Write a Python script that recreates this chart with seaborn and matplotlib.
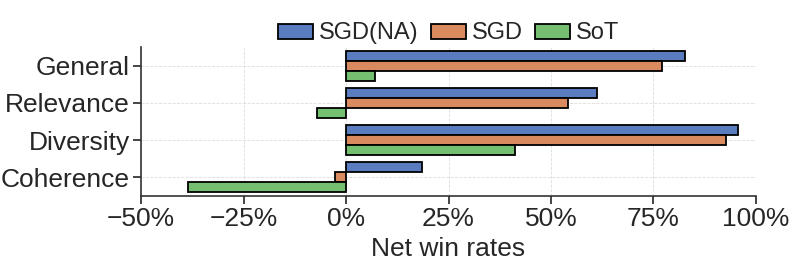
import pandas as pd
import numpy as np
import matplotlib.pyplot as plt
import seaborn as sns
from matplotlib.ticker import FuncFormatter

# Values (net win rates, %)
categories = ['General', 'Relevance', 'Diversity', 'Coherence']
methods = ['SGD(NA)', 'SGD', 'SoT']
sgd_na = [82.8, 61.3, 95.7, 18.5]
sgd = [77.0, 54.2, 92.7, -2.8]
sot = [7.0, -7.2, 41.3, -38.7]

df = pd.DataFrame({
    'Aspect': categories * 3,
    'Method': [m for m in methods for _ in categories],
    'Rate': sgd_na + sgd + sot,
})

sns.set_style('ticks')
plt.rcParams['font.family'] = ['Liberation Sans', 'DejaVu Sans']

fig, ax = plt.subplots(figsize=(7.89, 2.63), dpi=100)
sns.barplot(data=df, x='Rate', y='Aspect', hue='Method', order=categories,
            hue_order=methods, palette='muted', orient='h',
            edgecolor='black', linewidth=1.3, width=0.8, ax=ax)

ax.set_xlim(-50, 100)
ax.set_xticks([-50, -25, 0, 25, 50, 75, 100])
ax.xaxis.set_major_formatter(FuncFormatter(lambda v, p: f'{int(v)}%'.replace('-', '\u2212')))
ax.grid(True, linestyle='--', linewidth=0.6, color='#dddddd')
ax.set_axisbelow(True)
ax.set_xlabel('Net win rates', fontsize=19)
ax.set_ylabel('')
ax.tick_params(axis='both', labelsize=19, length=6, width=1.2, pad=2)
for s in ['left', 'bottom']:
    ax.spines[s].set_linewidth(1.2)
    ax.spines[s].set_color('#333333')
sns.despine(ax=ax)

ax.legend(loc='lower center', bbox_to_anchor=(0.5, 0.955), ncol=3, frameon=False,
          fontsize=17, handlelength=1.5, handleheight=0.6, handletextpad=0.25,
          columnspacing=0.5, borderaxespad=0)

fig.subplots_adjust(left=0.179, right=0.958, top=0.821, bottom=0.255)
fig.savefig('out.png', dpi=100)
